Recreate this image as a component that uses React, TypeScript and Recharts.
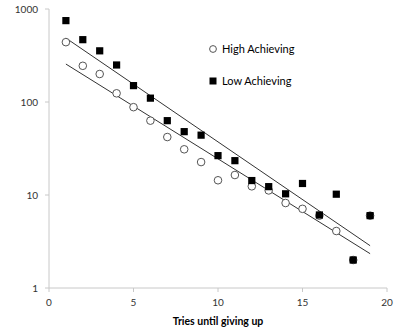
import React from 'react';
import {
  ScatterChart,
  Scatter,
  XAxis,
  YAxis,
  Label,
} from 'recharts';

// tries until giving up
const tries = [1, 2, 3, 4, 5, 6, 7, 8, 9, 10, 11, 12, 13, 14, 15, 16, 17, 18, 19];
const highAchieving = [440, 245, 200, 124, 88, 63, 42, 31, 22.6, 14.4, 16.4, 12.4, 11.2, 8.2, 7.1, 6, 4.1, 2, 6];
const lowAchieving = [750, 468, 355, 250, 150, 110, 63, 48, 44, 26.5, 23.4, 14.3, 12.3, 10.3, 13.3, 6.1, 10.2, 2, 6];

// exponential trendline end points
const trendX = [1, 19];
const highTrend = [256, 2.34];
const lowTrend = [487, 2.85];

const yTicks = [1, 10, 100, 1000];
const xTicks = [0, 5, 10, 15, 20];

const highData = tries.map((x, i) => ({ x, y: highAchieving[i] }));
const lowData = tries.map((x, i) => ({ x, y: lowAchieving[i] }));
const highLine = trendX.map((x, i) => ({ x, y: highTrend[i] }));
const lowLine = trendX.map((x, i) => ({ x, y: lowTrend[i] }));

const font = 'Lato, "Open Sans", sans-serif';
const axisColor = '#c8c8c8';

const OpenCircle = (props: any) => (
  <circle cx={props.cx} cy={props.cy} r={3.8} fill="#fff" stroke="#555" strokeWidth={1} />
);

const BlackSquare = (props: any) => (
  <rect x={props.cx - 3.6} y={props.cy - 3.6} width={7.2} height={7.2} fill="#000" />
);

const NoDot = () => <g />;

const LegendBox = () => (
  <div
    style={{
      position: 'absolute',
      left: 208,
      top: 41,
      fontFamily: font,
      fontSize: 11,
      color: '#000',
      lineHeight: '16px',
    }}
  >
    <div style={{ display: 'flex', alignItems: 'center', height: 16 }}>
      <svg width={10} height={10} style={{ marginRight: 4 }}>
        <circle cx={5} cy={5} r={3.4} fill="#fff" stroke="#555" />
      </svg>
      High Achieving
    </div>
    <div style={{ display: 'flex', alignItems: 'center', height: 16, marginTop: 16 }}>
      <svg width={10} height={10} style={{ marginRight: 4 }}>
        <rect x={1.5} y={1.5} width={7} height={7} fill="#000" />
      </svg>
      Low Achieving
    </div>
  </div>
);

export default function App() {
  return (
    <div style={{ position: 'fixed', left: 0, top: 0, width: 399, height: 330, background: '#fff' }}>
      <ScatterChart
        width={399}
        height={330}
        margin={{ top: 9, right: 12, bottom: 0, left: 0 }}
      >
        <XAxis
          type="number"
          dataKey="x"
          domain={[0, 20]}
          ticks={xTicks}
          height={42}
          tickSize={4}
          tickMargin={7}
          axisLine={{ stroke: axisColor }}
          tickLine={{ stroke: axisColor }}
          tick={{ fill: '#333', fontSize: 10, fontFamily: font }}
        >
          <Label
            value="Tries until giving up"
            position="insideBottom"
            offset={5}
            style={{ fontWeight: 'bold', fontSize: 10.5, fontFamily: font, fill: '#000' }}
          />
        </XAxis>
        <YAxis
          type="number"
          dataKey="y"
          scale="log"
          domain={[1, 1000]}
          ticks={yTicks}
          allowDataOverflow
          width={49}
          tickSize={4}
          tickMargin={7}
          axisLine={{ stroke: axisColor }}
          tickLine={{ stroke: axisColor }}
          tick={{ fill: '#333', fontSize: 10, fontFamily: font }}
        />
        <Scatter
          data={highLine}
          line={{ stroke: '#333', strokeWidth: 1 }}
          shape={<NoDot />}
          legendType="none"
          isAnimationActive={false}
        />
        <Scatter
          data={lowLine}
          line={{ stroke: '#333', strokeWidth: 1 }}
          shape={<NoDot />}
          legendType="none"
          isAnimationActive={false}
        />
        <Scatter
          name="High Achieving"
          data={highData}
          shape={<OpenCircle />}
          isAnimationActive={false}
        />
        <Scatter
          name="Low Achieving"
          data={lowData}
          shape={<BlackSquare />}
          isAnimationActive={false}
        />
      </ScatterChart>
      <LegendBox />
    </div>
  );
}
